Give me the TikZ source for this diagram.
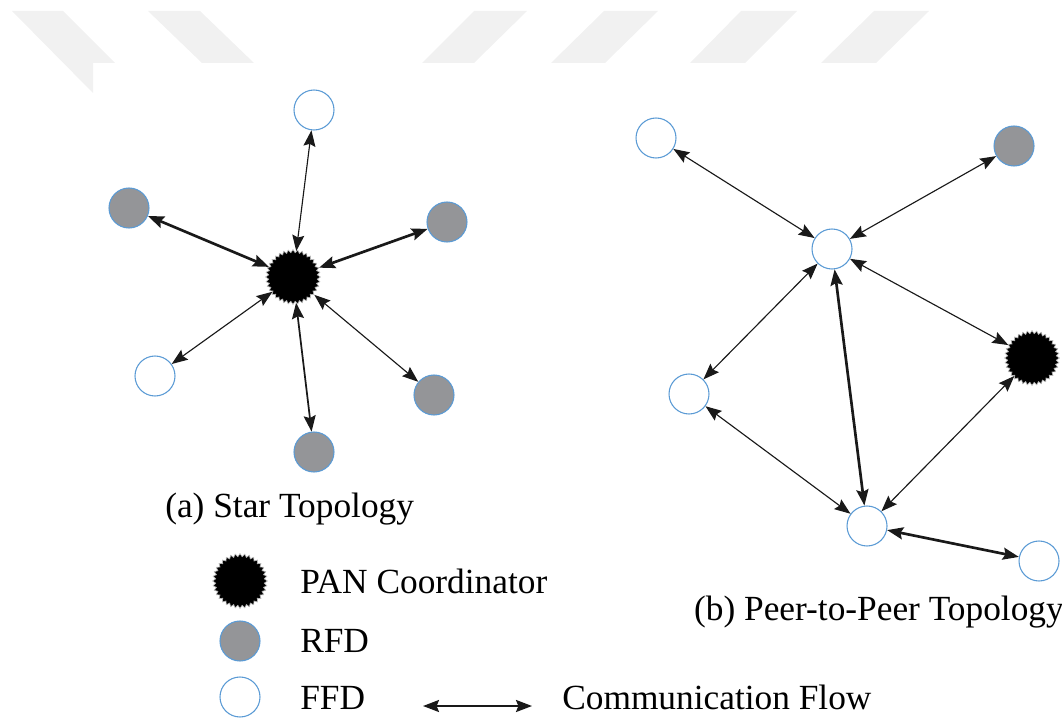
\documentclass[tikz,border=0pt]{standalone}
\usepackage{fontspec}
\setmainfont{Liberation Serif}
\usetikzlibrary{shapes.geometric,arrows.meta}
\definecolor{ringblue}{RGB}{91,155,213}
\definecolor{rfdgray}{RGB}{148,149,152}
\definecolor{markgray}{RGB}{241,241,241}
\tikzset{
  ffd/.style={circle,draw=ringblue,line width=0.8pt,fill=white,minimum size=30pt,inner sep=0pt},
  rfd/.style={circle,draw=ringblue,line width=0.8pt,fill=rfdgray,minimum size=30pt,inner sep=0pt},
  pan/.style={star,star points=36,star point ratio=1.12,fill=black,draw=gray!55,line width=0.5pt,minimum size=41pt,inner sep=0pt},
  tip/.tip={Stealth[length=12pt,width=9pt,inset=1.8pt]},
  flow/.style={tip-tip,line width=0.85pt,black!90},
  flowthick/.style={flow,line width=2pt},
  flowmid/.style={flow,line width=1.3pt},
  lbl/.style={font=\fontsize{26.5}{30}\selectfont,inner sep=0pt}
}
\begin{document}
\begin{tikzpicture}[x=0.75pt,y=-0.75pt]
\useasboundingbox (0,0) rectangle (1062,720);

% faint stripes along the top edge
\fill[markgray] (12,11) -- (63,11) -- (115,63) -- (93,63) -- (93,93) -- cycle;
\fill[markgray] (148,11) -- (200,11) -- (254,63) -- (202,63) -- cycle;
\fill[markgray] (474,11) -- (527,11) -- (474,63) -- (422,63) -- cycle;
\fill[markgray] (604,11) -- (658,11) -- (605,63) -- (551,63) -- cycle;
\fill[markgray] (741,11) -- (797,11) -- (745,63) -- (690,63) -- cycle;
\fill[markgray] (874,11) -- (929,11) -- (876,63) -- (821,63) -- cycle;

% (a) star topology
\node[pan] (sp) at (293,277) {};
\node[ffd] (st) at (314,110) {};
\node[rfd] (sl) at (129,208) {};
\node[rfd] (sr) at (447,222) {};
\node[ffd] (slb) at (155,376) {};
\node[rfd] (srb) at (434,395) {};
\node[rfd] (sb) at (314,452) {};

\draw[flow] (sp) -- (st);
\draw[flowthick] (sp) -- (sl);
\draw[flowthick] (sp) -- (sr);
\draw[flow] (sp) -- (slb);
\draw[flow] (sp) -- (srb);
\draw[flowmid] (sp) -- (sb);

\node[lbl,anchor=base west] (capa) at (165,517) {(a) Star Topology};

% (b) peer-to-peer topology
\node[ffd] (pc) at (832,249) {};
\node[ffd] (ptl) at (656,138) {};
\node[rfd] (ptr) at (1014,146) {};
\node[ffd] (pl) at (689,394) {};
\node[pan] (pp) at (1032,358) {};
\node[ffd] (pb) at (867,526) {};
\node[ffd] (pbr) at (1039,561) {};

\draw[flow] (pc) -- (ptl);
\draw[flow] (pc) -- (ptr);
\draw[flow] (pc) -- (pl);
\draw[flow] (pc) -- (pp);
\draw[flowthick] (pc) -- (pb);
\draw[flow] (pl) -- (pb);
\draw[flow] (pp) -- (pb);
\draw[flowthick] (pb) -- (pbr);

\node[lbl,anchor=base east] (capb) at (1064,620) {(b) Peer-to-Peer Topology};

% legend
\node[pan] (kpan) at (240,581) {};
\node[rfd] (krfd) at (240,641) {};
\node[ffd] (kffd) at (240,697) {};
\node[lbl,anchor=base west] (tpan) at (300,593) {PAN Coordinator};
\node[lbl,anchor=base west] (trfd) at (300,652) {RFD};
\node[lbl,anchor=base west] (tffd) at (300,709) {FFD};
\coordinate (ka) at (423,706);
\coordinate (kb) at (532,706);
\draw[flowthick,line width=1.6pt] (ka) -- (kb);
\node[lbl,anchor=base west] (tflow) at (562,709) {Communication Flow};
\end{tikzpicture}
\end{document}
